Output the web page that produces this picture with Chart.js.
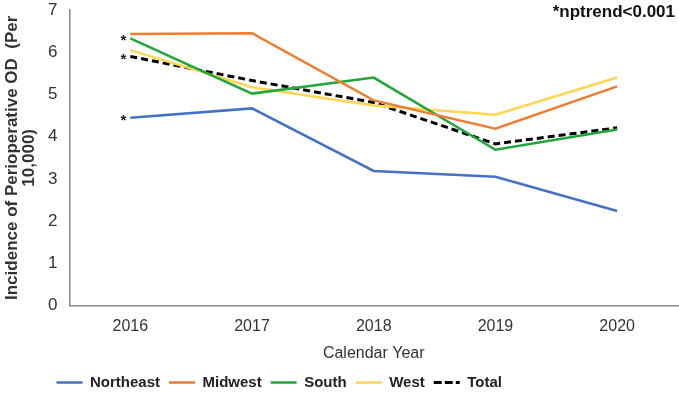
<!DOCTYPE html>
<html>
<head>
<meta charset="utf-8">
<script src="https://cdn.jsdelivr.net/npm/chart.js@4"></script>
<style>
  html, body { margin: 0; padding: 0; background: #fff; }
  #wrap { width: 679px; height: 394px; position: relative; }
</style>
</head>
<body>
<div id="wrap"><canvas id="c"></canvas></div>
<script>
// data
const years = ['2016', '2017', '2018', '2019', '2020'];
const northeast = [4.45, 4.67, 3.19, 3.05, 2.24];
const midwest = [6.43, 6.45, 4.86, 4.19, 5.19];
const south = [6.33, 5.02, 5.40, 3.69, 4.17];
const west = [6.05, 5.17, 4.74, 4.52, 5.40];
const total = [5.90, 5.33, 4.81, 3.83, 4.21];
const yTicks = [0, 1, 2, 3, 4, 5, 6, 7];
const starred = ['South', 'Total', 'Northeast'];
const note = '*nptrend<0.001';

const FONT = "'Liberation Sans', Arial, sans-serif";

// 2016 옆 별표 + 우측 상단 문구, 범례는 왼쪽 52px 에서 시작
const marks = {
  id: 'marks',
  afterLayout(chart) {
    const lg = chart.legend;
    const start = (lg.left + lg.right) / 2 - lg.lineWidths[0] / 2;
    const dx = 52 - start;
    lg.left += dx; lg.right += dx;
  },
  afterDatasetsDraw(chart) {
    const { ctx } = chart;
    ctx.save();
    ctx.fillStyle = '#222';
    ctx.font = 'bold 15px ' + FONT;
    ctx.textAlign = 'right';
    ctx.textBaseline = 'middle';
    chart.data.datasets.forEach((ds, i) => {
      if (!starred.includes(ds.label)) return;
      const p = chart.getDatasetMeta(i).data[0];
      ctx.fillText('*', p.x - 4, p.y + 3);
    });
    ctx.font = 'bold 17px ' + FONT;
    ctx.fillStyle = '#111';
    ctx.fillText(note, chart.width - 4, 12);
    ctx.restore();
  },
};

const mk = (label, data, color, dash) => ({
  label, data,
  borderColor: color, backgroundColor: color,
  borderWidth: dash ? 3 : 2.5,
  borderDash: dash || [],
  pointRadius: 0, tension: 0, fill: false,
});

new Chart(document.getElementById('c'), {
  type: 'line',
  data: {
    labels: years,
    datasets: [
      mk('Northeast', northeast, '#4472c4'),
      mk('Midwest', midwest, '#ed7d31'),
      mk('South', south, '#22a63a'),
      mk('West', west, '#ffd653'),
      mk('Total', total, '#000000', [7, 4]),
    ],
  },
  plugins: [marks],
  options: {
    responsive: true, maintainAspectRatio: false, animation: false,
    layout: { padding: { top: 10, right: 1, left: 0, bottom: -6 } },
    plugins: {
      tooltip: { enabled: false },
      legend: {
        position: 'bottom',
        labels: {
          boxWidth: 26, boxHeight: 0, padding: 9,
          color: '#222', font: { family: FONT, size: 15, weight: 'bold' },
        },
      },
    },
    scales: {
      x: {
        offset: true,
        grid: { display: false, drawTicks: false },
        border: { color: '#888', width: 1.5 },
        ticks: { color: '#333', font: { family: FONT, size: 16 }, padding: 11 },
        title: { display: true, text: 'Calendar Year', color: '#333', font: { family: FONT, size: 16 }, padding: { top: -3, bottom: 3 } },
      },
      y: {
        min: 0, max: 7,
        afterBuildTicks: (ax) => { ax.ticks = yTicks.map((v) => ({ value: v })); },
        afterFit: (s) => { s.paddingTop = 0; },
        grid: { display: false, drawTicks: false },
        border: { color: '#888', width: 1.5 },
        ticks: { color: '#333', font: { family: FONT, size: 17 }, padding: 12 },
        title: {
          display: true, text: ['Incidence of Perioperative OD  (Per', '10,000)'],
          color: '#333', font: { family: FONT, size: 17, weight: 'bold', lineHeight: 1 },
          padding: { top: 4, bottom: -2 },
        },
      },
    },
  },
});
</script>
</body>
</html>
